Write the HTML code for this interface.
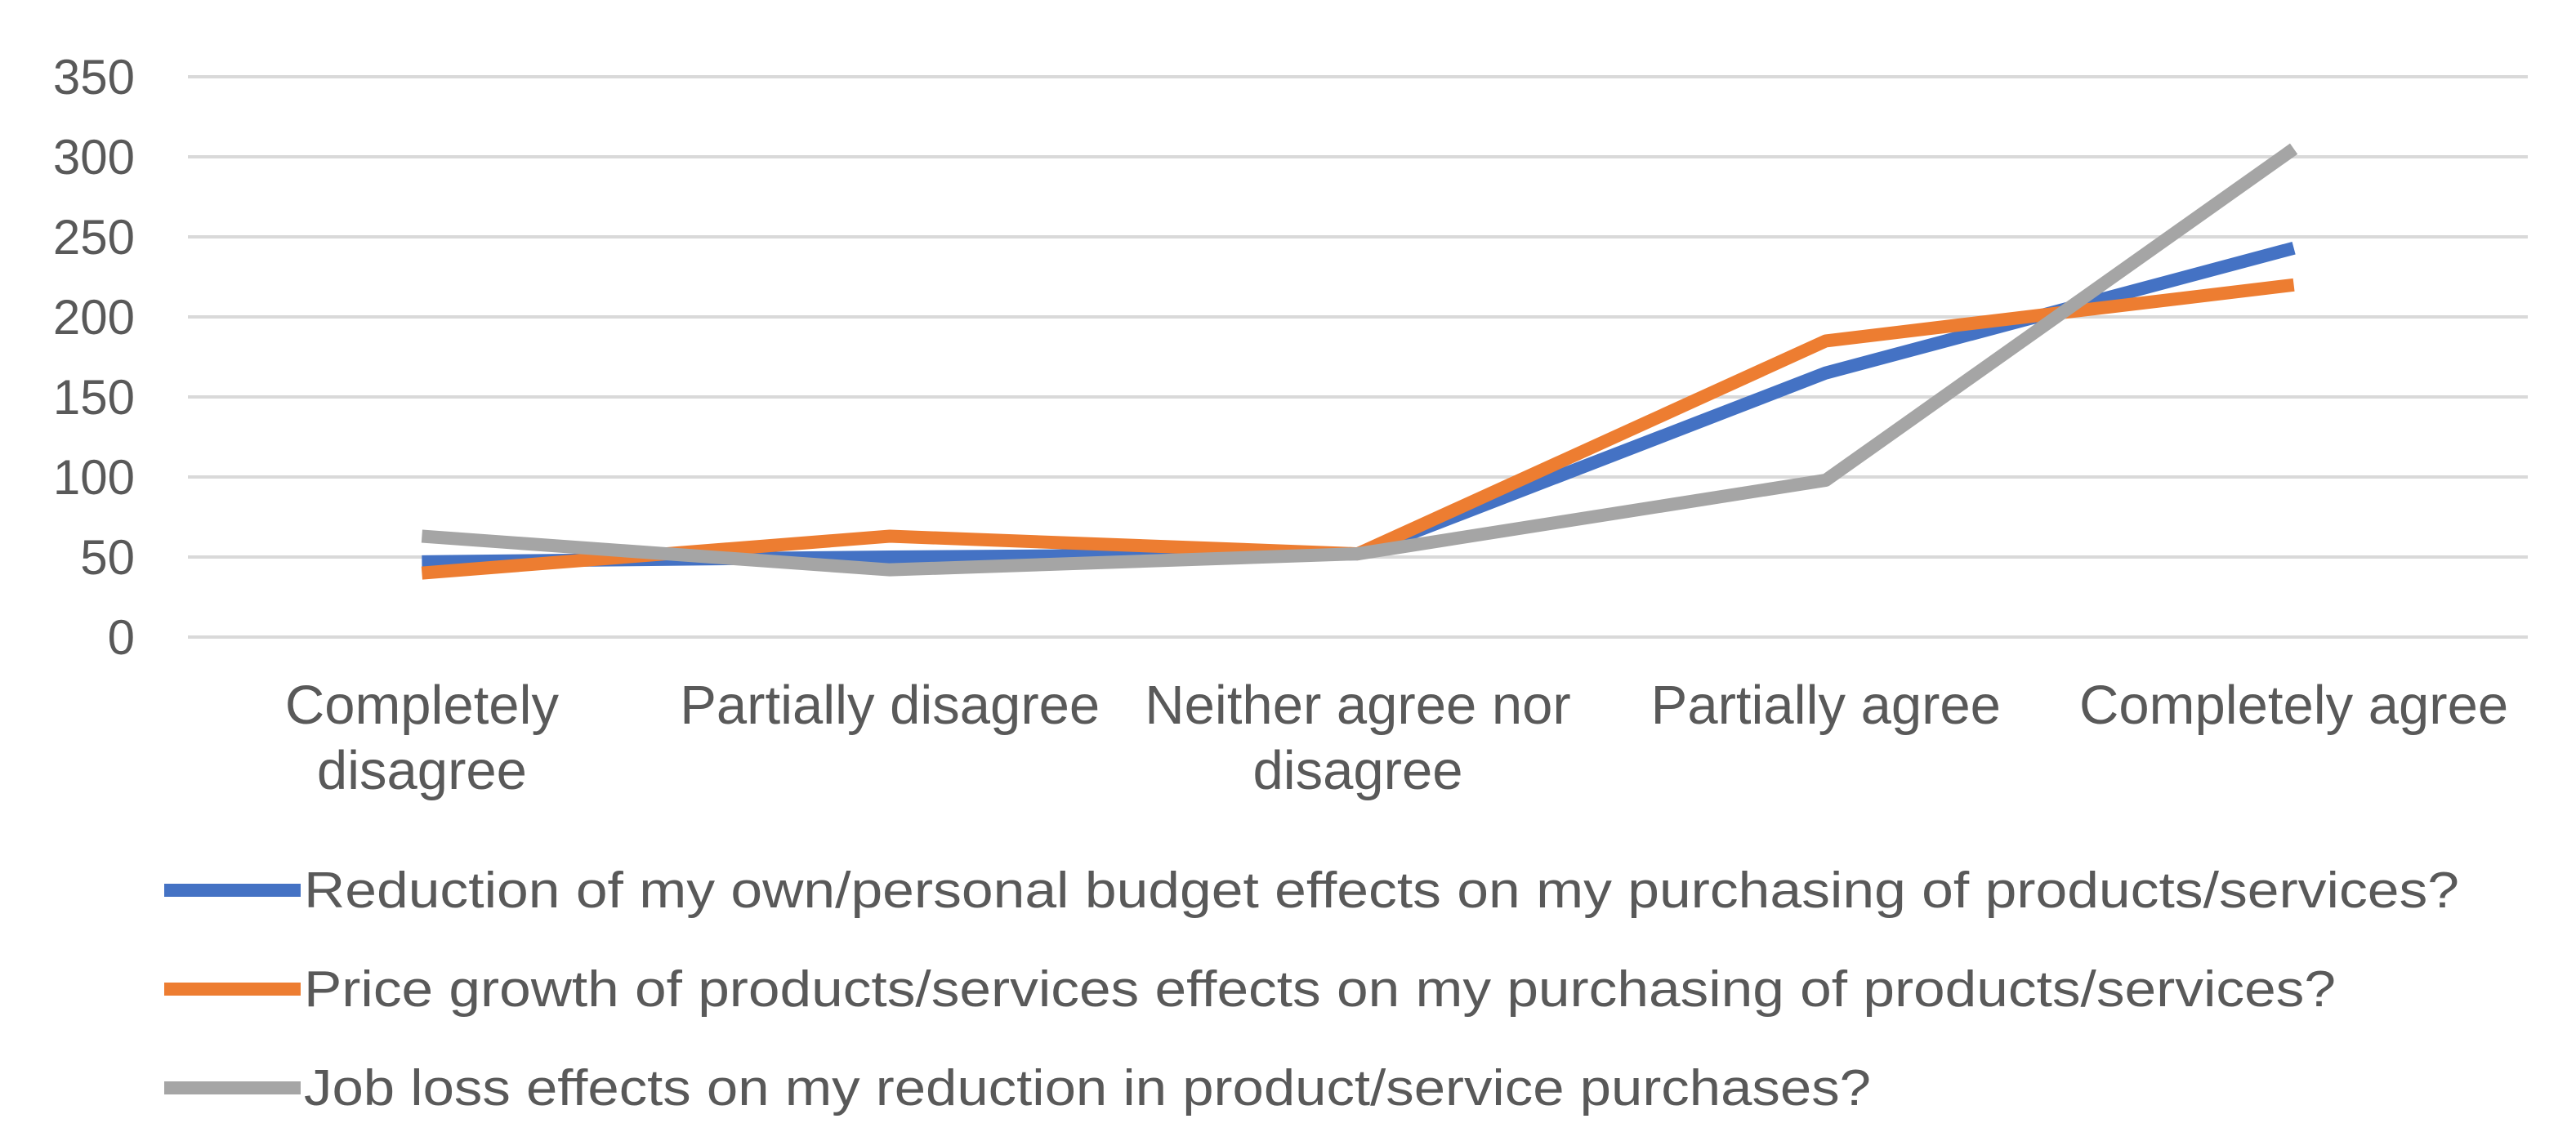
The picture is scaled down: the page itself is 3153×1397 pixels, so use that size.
<!DOCTYPE html>
<html><head><meta charset="utf-8"><style>
html,body{margin:0;padding:0;background:#fff;}
svg{display:block;}
text{font-family:"Liberation Sans",sans-serif;fill:#595959;}
</style></head><body>
<svg id="chart" width="3153" height="1397" viewBox="0 0 3153 1397" xmlns="http://www.w3.org/2000/svg">
<g id="grid"></g>
<g id="yaxis"></g>
<g id="xaxis"></g>
<g id="series"></g>
<g id="legend"></g>
</svg>
<script>
const categories = [["Completely","disagree"],["Partially disagree"],["Neither agree nor","disagree"],["Partially agree"],["Completely agree"]];
const yTicks = [0,50,100,150,200,250,300,350];
const budgetValues = [47,50,52,165,243];
const priceValues = [40,63,52,185,220];
const jobValues = [63,42,52,98,305];
const seriesNames = ["Reduction of my own/personal budget effects on my purchasing of products/services?","Price growth of products/services effects on my purchasing of products/services?","Job loss effects on my reduction in product/service purchases?"];
const seriesColors = ["#4472c4","#ed7d31","#a5a5a5"];

const NS="http://www.w3.org/2000/svg";
const x0=230,x1=3094,yTop=94,yBot=780,yMax=350;
const band=(x1-x0)/categories.length;
function xs(i){return x0+band*(i+0.5);}
function ys(v){return yBot-(v/yMax)*(yBot-yTop);}
function mk(tag,attrs,parent){const e=document.createElementNS(NS,tag);for(const k in attrs)e.setAttribute(k,attrs[k]);parent.appendChild(e);return e;}

const grid=document.getElementById('grid'),yaxis=document.getElementById('yaxis');
yTicks.forEach(t=>{
  const l=mk('line',{x1:x0,x2:x1,y1:ys(t),y2:ys(t),stroke:'#d9d9d9','stroke-width':4},grid);
  
  
  const tx=mk('text',{x:165,y:ys(t)+21,'text-anchor':'end','font-size':60},yaxis);
  tx.textContent=t;
  
  
});
const xaxis=document.getElementById('xaxis');
categories.forEach((c,i)=>{
  c.forEach((line,j)=>{
    const tx=mk('text',{x:xs(i),y:886+j*80,'text-anchor':'middle','font-size':67},xaxis);
    tx.textContent=line;
    
    
  });
});
const series=document.getElementById('series');
[budgetValues,priceValues,jobValues].forEach((vals,s)=>{
  const pts=vals.map((v,i)=>xs(i)+','+ys(v)).join(' ');
  const p=mk('polyline',{points:pts,fill:'none',stroke:seriesColors[s],'stroke-width':16,'stroke-linejoin':'round'},series);
  
  
});
const legend=document.getElementById('legend');
const legendWidths=[2638,2487,1918];
seriesNames.forEach((n,s)=>{
  const y=1090+s*121;
  const l=mk('line',{x1:201,x2:368,y1:y,y2:y,stroke:seriesColors[s],'stroke-width':16},legend);
  
  
  const tx=mk('text',{x:372,y:y+21,'font-size':62,textLength:legendWidths[s],lengthAdjust:'spacingAndGlyphs'},legend);
  tx.textContent=n;
  
  
});
</script>
</body></html>
